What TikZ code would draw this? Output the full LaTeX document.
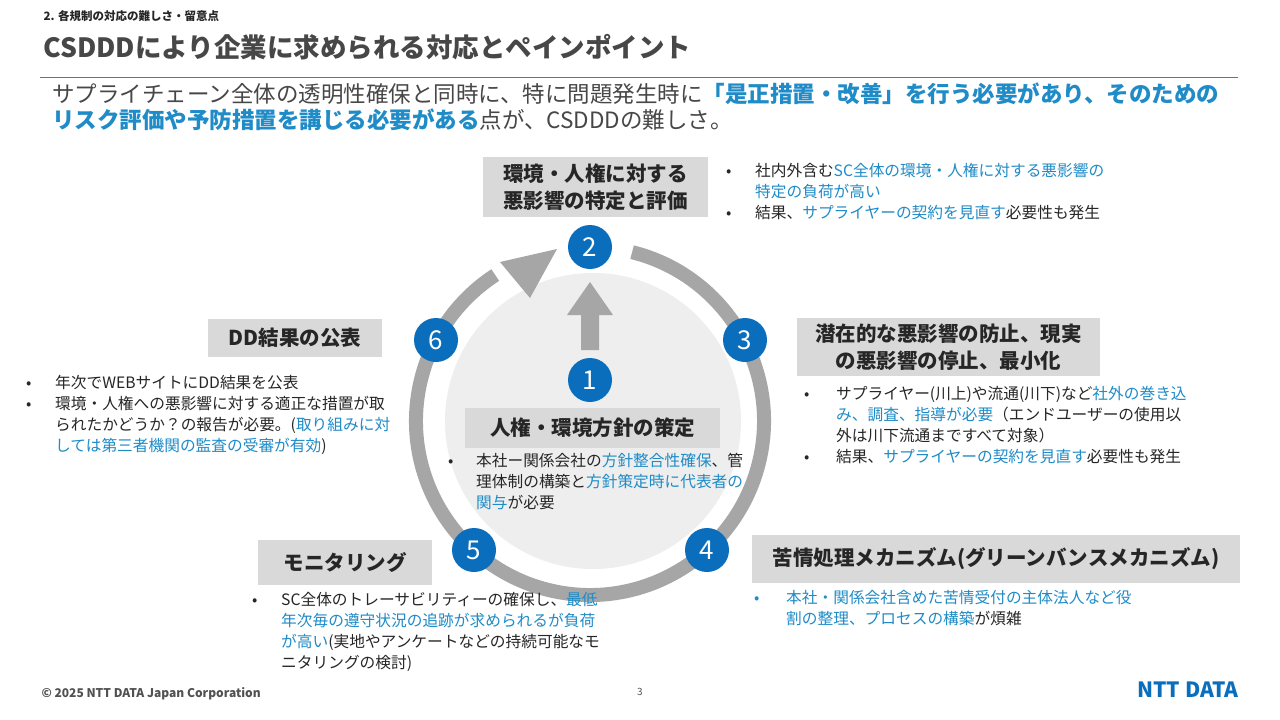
\documentclass[tikz,border=0pt]{standalone}
\usepackage{fontspec}
\setmainfont{Noto Sans CJK JP}
\usetikzlibrary{arrows.meta}
\definecolor{tx}{HTML}{262626}
\definecolor{hl}{HTML}{1F8BC7}
\definecolor{nb}{HTML}{0A6EBD}
\definecolor{ring}{HTML}{A6A6A6}
\definecolor{bx}{HTML}{D9D9D9}
\newcommand{\hb}[1]{\textcolor{hl}{#1}}
\tikzset{
 num/.style={circle,fill=nb,minimum size=44pt,inner sep=0pt,text=white,font=\fontsize{26}{26}\selectfont},
 lbl/.style={fill=bx,text=tx,font=\fontsize{20.5}{27}\selectfont\bfseries,align=center,inner sep=0pt},
 bul/.style={anchor=north west,inner sep=0pt,text=tx,font=\fontsize{15.7}{21}\selectfont,align=left}
}
\begin{document}
\begin{tikzpicture}[x=1pt,y=-1pt]
\useasboundingbox (0,0) rectangle (1280,720);
\fill[white] (0,0) rectangle (1280,720);
\node[anchor=west,text=tx,font=\fontsize{11.5}{12}\selectfont\bfseries] (sec) at (40,16) {2. 各規制の対応の難しさ・留意点};
\node[anchor=west,text=tx!85,font=\fontsize{26.5}{30}\selectfont\bfseries] (title) at (40,47) {CSDDDにより企業に求められる対応とペインポイント};
\draw[hl,line width=1pt] (40,77) -- (1238,77);
\node[anchor=north west,inner sep=0pt,text=tx!85,align=left,font=\fontsize{22.5}{25.5}\selectfont] (sub) at (52,83)
 {サプライチェーン全体の透明性確保と同時に、特に問題発生時に\textbf{\hb{「是正措置・改善」を行う必要があり、そのための}}\\
 \textbf{\hb{リスク評価や予防措置を講じる必要がある}}点が、CSDDDの難しさ。};
% circles
\fill[gray!13] (593,421) circle (148);
\draw[ring,line width=14pt] (590,421) ++(-76:174) arc[start angle=-76,end angle=237,radius=174];
\fill[ring] (557,249) -- (500,262) -- (530,298) -- cycle;
\fill[ring] (581,350) -- (599,350) -- (599,315) -- (613,315) -- (590,282) -- (567,315) -- (581,315) -- cycle;
\node[num] (n2) at (590,247) {2};
\node[num] (n3) at (745,340) {3};
\node[num] (n4) at (707,550) {4};
\node[num] (n5) at (474,550) {5};
\node[num] (n6) at (436,340) {6};
\node[num] (n1) at (590,380) {1};
% labels
\node[lbl,minimum width=225pt,minimum height=60pt] (b2) at (595.5,187) {環境・人権に対する\\悪影響の特定と評価};
\node[lbl,minimum width=303pt,minimum height=58pt] (b3) at (948.5,347) {潜在的な悪影響の防止、現実\\の悪影響の停止、最小化};
\node[lbl,minimum width=488pt,minimum height=48pt] (b4) at (996,559) {苦情処理メカニズム(グリーンバンスメカニズム)};
\node[lbl,minimum width=174pt,minimum height=45pt] (b5) at (345,562.5) {モニタリング};
\node[lbl,minimum width=174pt,minimum height=38pt] (b6) at (295,338) {DD結果の公表};
\node[lbl,minimum width=255pt,minimum height=40pt] (b1) at (592.5,428) {人権・環境方針の策定};
% bullets
\node[bul] (t2) at (726,162) {\begin{tabular}{@{}p{29pt}@{}l@{}}
•&社内外含む\hb{SC全体の環境・人権に対する悪影響の}\\
&\hb{特定の負荷が高い}\\
•&結果、\hb{サプライヤーの契約を見直す}必要性も発生\end{tabular}};
\node[bul] (t3) at (804,385) {\begin{tabular}{@{}p{32pt}@{}l@{}}
•&サプライヤー(川上)や流通(川下)など\hb{社外の巻き込}\\
&\hb{み、調査、指導が必要}（エンドユーザーの使用以\\
&外は川下流通まですべて対象）\\
•&結果、\hb{サプライヤーの契約を見直す}必要性も発生\end{tabular}};
\node[bul] (t6) at (26,374) {\begin{tabular}{@{}p{29pt}@{}l@{}}
•&年次でWEBサイトにDD結果を公表\\
•&環境・人権への悪影響に対する適正な措置が取\\
&られたかどうか？の報告が必要。(\hb{取り組みに対}\\
&\hb{しては第三者機関の監査の受審が有効})\end{tabular}};
\node[bul] (t1) at (448,452) {\begin{tabular}{@{}p{28pt}@{}l@{}}
•&本社ー関係会社の\hb{方針整合性確保}、管\\
&理体制の構築と\hb{方針策定時に代表者の}\\
&\hb{関与}が必要\end{tabular}};
\node[bul] (t5) at (252,591) {\begin{tabular}{@{}p{29pt}@{}l@{}}
•&SC全体のトレーサビリティーの確保し、\hb{最低}\\
&\hb{年次毎の遵守状況の追跡が求められるが負荷}\\
&\hb{が高い}(実地やアンケートなどの持続可能なモ\\
&ニタリングの検討)\end{tabular}};
\node[bul] (t4) at (754,589) {\begin{tabular}{@{}p{32pt}@{}l@{}}
\hb{•}&\hb{本社・関係会社含めた苦情受付の主体法人など役}\\
&\hb{割の整理、プロセスの構築}が煩雑\end{tabular}};
% footer
\node[anchor=west,text=tx!80,font=\fontsize{12}{14}\selectfont\bfseries] (cp) at (38,694) {© 2025 NTT DATA Japan Corporation};
\node[text=tx!80,font=\fontsize{10}{12}\selectfont] (pg) at (640,692) {3};
\node[anchor=east,text=nb,font=\fontsize{21}{22}\selectfont\bfseries] (logo) at (1242,690) {NTT DATA};
\end{tikzpicture}
\end{document}
